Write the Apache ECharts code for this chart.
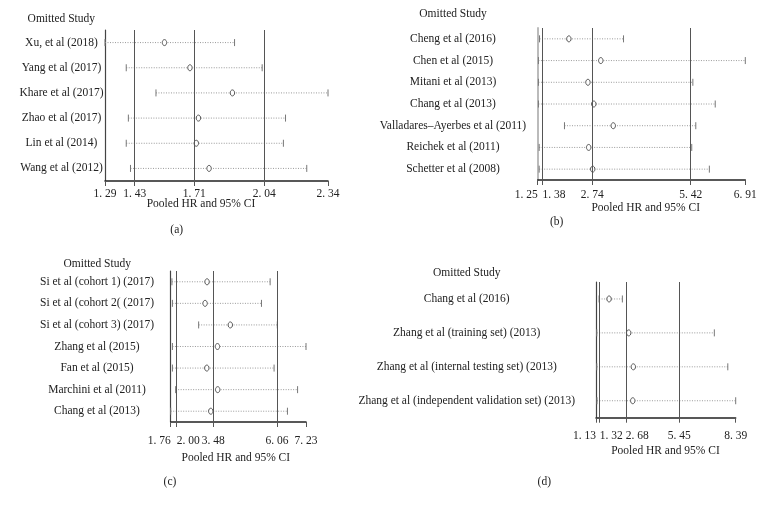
<!DOCTYPE html>
<html><head><meta charset="utf-8">
<script src="https://cdn.jsdelivr.net/npm/echarts@6/dist/echarts.min.js"></script>
<style>html,body{margin:0;padding:0;background:#fff}#c{width:765px;height:509px}</style>
</head><body><div id="c"></div>
<script>
// Panel (a)
const studiesA = ['Xu, et al (2018)','Yang et al (2017)','Khare et al (2017)','Zhao et al (2017)','Lin et al (2014)','Wang et al (2012)'];
const estA  = [1.57, 1.69, 1.89, 1.73, 1.72, 1.78];
const lowA  = [1.29, 1.39, 1.53, 1.40, 1.39, 1.41];
const highA = [1.90, 2.03, 2.34, 2.14, 2.13, 2.24];
const ticksA = [1.29, 1.43, 1.71, 2.04, 2.34];
// Panel (b)
const studiesB = ['Cheng et al (2016)','Chen et al (2015)','Mitani et al (2013)','Chang et al (2013)','Valladares\u2013Ayerbes et al (2011)','Reichek et al (2011)','Schetter et al (2008)'];
const estB  = [2.10, 2.97, 2.62, 2.78, 3.31, 2.64, 2.75];
const lowB  = [1.30, 1.27, 1.27, 1.27, 1.98, 1.29, 1.29];
const highB = [3.59, 6.91, 5.48, 6.09, 5.56, 5.45, 5.93];
const ticksB = [1.25, 1.38, 2.74, 5.42, 6.91];
// Panel (c)
const studiesC = ['Si et al (cohort 1) (2017)','Si et al (cohort 2( (2017)','Si et al (cohort 3) (2017)','Zhang et al (2015)','Fan et al (2015)','Marchini et al (2011)','Chang et al (2013)'];
const estC  = [3.23, 3.15, 4.17, 3.65, 3.22, 3.66, 3.38];
const lowC  = [1.81, 1.83, 2.89, 1.83, 1.83, 1.96, 1.76];
const highC = [5.78, 5.43, 6.07, 7.23, 5.94, 6.89, 6.48];
const ticksC = [1.76, 2.00, 3.48, 6.06, 7.23];
// Panel (d)
const studiesD = ['Chang et al (2016)','Zhang et al (training set) (2013)','Zhang et al (internal testing set) (2013)','Zhang et al (independent validation set) (2013)'];
const estD  = [1.81, 2.83, 3.07, 3.04];
const lowD  = [1.29, 1.17, 1.17, 1.18];
const highD = [2.50, 7.28, 7.98, 8.39];
const ticksD = [1.13, 1.32, 2.68, 5.45, 8.39];

const FONT = '"Liberation Serif", "DejaVu Serif", serif';
const FS = 11.5;
const fmt = v => v.toFixed(2).replace('.', '. ');

const panels = [
  {studies: studiesA, est: estA, low: lowA, high: highA, ticks: ticksA,
   align: ['center','center','center','center','center'],
   grid: {left: 105, right: 437, top: 30, height: 151}, labelMargin: 43.5, tickMargin: 7, leftColor: '#444', leftWidth: 1.2},
  {studies: studiesB, est: estB, low: lowB, high: highB, ticks: ticksB,
   align: ['right','left','center','center','center'],
   grid: {left: 537.7, right: 19.7, top: 28, height: 152}, labelMargin: 84.7, tickMargin: 9, leftColor: '#bbb', leftWidth: 2},
  {studies: studiesC, est: estC, low: lowC, high: highC, ticks: ticksC,
   align: ['right','left','center','center','center'],
   grid: {left: 170.7, right: 459, top: 271, height: 151}, labelMargin: 73.7, tickMargin: 13, leftColor: '#444', leftWidth: 1.2},
  {studies: studiesD, est: estD, low: lowD, high: highD, ticks: ticksD,
   align: ['right','left','left','center','center'],
   grid: {left: 596, right: 29.3, top: 282, height: 135.7}, labelMargin: 129.3, tickMargin: 12, leftColor: '#444', leftWidth: 1.2}
];

const grid = [], xAxis = [], yAxis = [], series = [];
panels.forEach((p, i) => {
  grid.push(Object.assign({outerBoundsMode: 'none', containLabel: false}, p.grid));
  const mainIdx = xAxis.length;
  const groups = ['center', 'right', 'left'];
  groups.forEach(g => {
    const vals = p.ticks.filter((v, k) => p.align[k] === g);
    const isMain = g === 'center';
    if (!isMain && !vals.length) return;
    xAxis.push({
      type: 'value', gridIndex: i, position: 'bottom',
      min: p.ticks[0], max: p.ticks[p.ticks.length - 1],
      splitLine: {show: false},
      axisLine: {show: isMain, onZero: false, lineStyle: {color: '#222', width: 1.5}},
      axisTick: {show: isMain, length: 5, customValues: p.ticks, lineStyle: {color: '#555', width: 1}},
      axisLabel: {customValues: vals, formatter: fmt, margin: p.tickMargin, align: g,
        showMinLabel: true, showMaxLabel: true, hideOverlap: false,
        fontFamily: FONT, fontSize: FS, color: '#222'}
    });
  });
  yAxis.push({
    type: 'category', gridIndex: i, inverse: true, data: p.studies,
    axisLine: {show: true, lineStyle: {color: p.leftColor, width: p.leftWidth}},
    axisTick: {show: false}, splitLine: {show: false},
    axisLabel: {align: 'center', margin: p.labelMargin, interval: 0, hideOverlap: false,
      fontFamily: FONT, fontSize: FS, color: '#222'}
  });
  series.push({
    type: 'line', xAxisIndex: mainIdx, yAxisIndex: i, data: [], silent: true,
    markLine: {symbol: 'none', silent: true, label: {show: false},
      lineStyle: {color: '#555', type: 'solid', width: 1},
      emphasis: {disabled: true},
      data: p.ticks.slice(1, 4).map(v => ({xAxis: v}))}
  });
  series.push({
    type: 'custom', xAxisIndex: mainIdx, yAxisIndex: i, clip: false, silent: true,
    encode: {x: [0, 1, 2], y: 3},
    data: p.studies.map((s, k) => [p.low[k], p.est[k], p.high[k], k]),
    renderItem: (params, api) => {
      const c = api.value(3);
      const pL = api.coord([api.value(0), c]);
      const pE = api.coord([api.value(1), c]);
      const pH = api.coord([api.value(2), c]);
      return {type: 'group', children: [
        {type: 'line', shape: {x1: pL[0], y1: pL[1], x2: pH[0], y2: pH[1]},
         style: {stroke: '#999', lineWidth: 1, lineDash: [1, 1.5]}},
        {type: 'line', shape: {x1: pL[0], y1: pL[1] - 3.5, x2: pL[0], y2: pL[1] + 3.5},
         style: {stroke: '#777', lineWidth: 1}},
        {type: 'line', shape: {x1: pH[0], y1: pH[1] - 3.5, x2: pH[0], y2: pH[1] + 3.5},
         style: {stroke: '#777', lineWidth: 1}},
        {type: 'ellipse', shape: {cx: pE[0], cy: pE[1], rx: 2.2, ry: 3},
         style: {fill: '#fff', stroke: '#555', lineWidth: 1}}
      ]};
    }
  });
});

const texts = [
  ['Omitted Study', 61.3, 19], ['Omitted Study', 453, 14], ['Omitted Study', 97.2, 264], ['Omitted Study', 466.7, 272.7],
  ['Pooled HR and 95% CI', 201, 204], ['Pooled HR and 95% CI', 645.7, 208.3], ['Pooled HR and 95% CI', 235.8, 458.3], ['Pooled HR and 95% CI', 665.5, 451],
  ['(a)', 176.7, 230], ['(b)', 556.7, 221.7], ['(c)', 170, 482.3], ['(d)', 544.3, 482.3]
];
const graphic = texts.map(t => ({
  type: 'text', x: t[1], y: t[2], silent: true,
  style: {text: t[0], fill: '#222', font: FS + 'px ' + FONT, align: 'center', verticalAlign: 'middle'}
}));

const chart = echarts.init(document.getElementById('c'), null, {renderer: 'canvas'});
chart.setOption({animation: false, backgroundColor: '#fff', grid, xAxis, yAxis, series, graphic});
</script>
</body></html>
